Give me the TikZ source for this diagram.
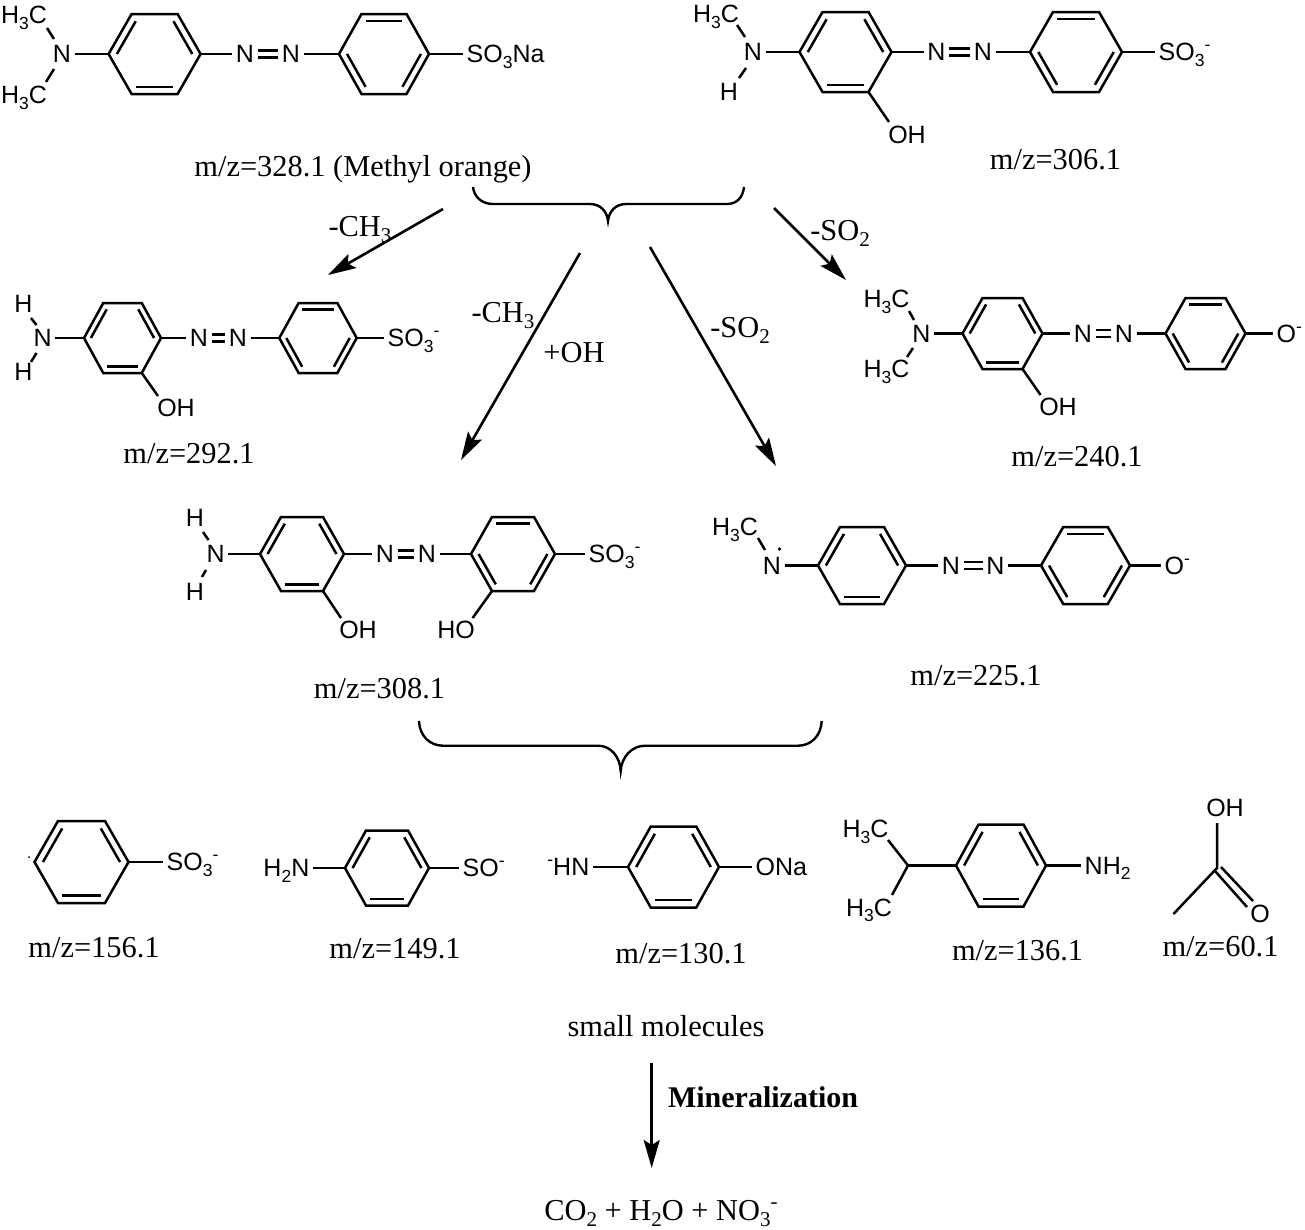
\documentclass[tikz,border=0pt]{standalone}
\usepackage{fontspec}
\setmainfont{Liberation Serif}
\newfontfamily\arialf{Liberation Sans}
\usetikzlibrary{arrows.meta,calc}
\newcommand\asb[1]{\raisebox{-5.5pt}{\fontsize{17.5}{17.5}\selectfont #1}}
\newcommand\asp[1]{\raisebox{10pt}{\fontsize{17.5}{17.5}\selectfont #1}}
\newcommand\tsb[1]{\raisebox{-6.5pt}{\fontsize{21}{21}\selectfont #1}}
\newcommand\tsp[1]{\raisebox{12pt}{\fontsize{21}{21}\selectfont #1}}
\tikzset{
  bond/.style={line width=2.5pt,line cap=butt,black},
  atom/.style={font=\arialf\fontsize{25}{25}\selectfont,inner xsep=3.5pt,inner ysep=0pt,text height=17.5pt,text depth=0pt},
  lab/.style={font=\fontsize{30.4}{30.4}\selectfont,inner sep=0pt,text height=20pt,text depth=0pt},
  boldlab/.style={lab,font=\bfseries\fontsize{30}{30}\selectfont},
  rxn/.style={line width=2.6pt,black,-{Stealth[length=28pt,width=16pt,inset=5pt]}},
  bracep/.style={line width=2.4pt,black}
}
\newcommand{\benzbase}[5]{%
  \coordinate (#1C) at (#2,#3);
  \coordinate (#1L) at ({#2-#4},#3);
  \coordinate (#1TL) at ({#2-#4/2},{#3-#5});
  \coordinate (#1TR) at ({#2+#4/2},{#3-#5});
  \coordinate (#1R) at ({#2+#4},#3);
  \coordinate (#1BR) at ({#2+#4/2},{#3+#5});
  \coordinate (#1BL) at ({#2-#4/2},{#3+#5});
  \draw[bond,line join=miter] (#1L) -- (#1TL) -- (#1TR) -- (#1R) -- (#1BR) -- (#1BL) -- cycle;}
\newcommand{\inn}[3]{\draw[bond] ($(#1#2)!.18!(#1C)$) -- ($(#1#3)!.18!(#1C)$);}
\newcommand{\benzA}[5]{\benzbase{#1}{#2}{#3}{#4}{#5}\inn{#1}{L}{TL}\inn{#1}{TR}{R}\inn{#1}{BR}{BL}}
\newcommand{\benzB}[5]{\benzbase{#1}{#2}{#3}{#4}{#5}\inn{#1}{TL}{TR}\inn{#1}{R}{BR}\inn{#1}{BL}{L}}
\newcommand{\azo}[2]{\draw[bond] ([yshift=3.7pt]#1.east) -- ([yshift=3.7pt]#2.west);\draw[bond] ([yshift=-3.7pt]#1.east) -- ([yshift=-3.7pt]#2.west);}
\newcommand{\lnk}[3]{\coordinate (#1s) at (#2);\coordinate (#1e) at (#3);\draw[bond] (#1s) -- (#1e);}
\begin{document}
\begin{tikzpicture}[x=1pt,y=-1pt]
\useasboundingbox (0,0) rectangle (1305,1229);
\fill[white] (0,0) rectangle (1305,1229);

% Methyl orange
\benzA{ma}{154.6}{54}{46}{40}
\benzB{mb}{384}{54}{45}{40}
\node[atom] (mah1) at (24,15) {H\asb{3}C};
\node[atom] (mah2) at (24,95) {H\asb{3}C};
\node[atom] (man) at (62,54) {N};
\node[atom] (manl) at (245,54) {N};
\node[atom] (manr) at (291,54) {N};
\node[atom,anchor=west] (mas) at (463,54) {SO\asb{3}Na};
\lnk{mab1}{47,28}{54,39}
\lnk{mab2}{54,69}{46,82}
\draw[bond] (man) -- (maL);
\draw[bond] (maR) -- (manl);
\azo{manl}{manr}
\draw[bond] (manr) -- (mbL);
\draw[bond] (mbR) -- (mas.west);
\node[lab] (mal) at (363,166) {m/z=328.1 (Methyl orange)};

% m/z 306.1
\benzA{na}{845.5}{52}{46}{40}
\benzB{nb}{1076}{52}{46}{40}
\node[atom] (nah) at (716,14) {H\asb{3}C};
\node[atom] (nn) at (753,52) {N};
\node[atom] (nh) at (729,92) {H};
\node[atom] (nnl) at (936.5,52) {N};
\node[atom] (nnr) at (983,52) {N};
\node[atom,anchor=west] (ns) at (1155,52) {SO\asb{3}\asp{-}};
\node[atom] (noh) at (907,135) {OH};
\lnk{nab1}{737,25}{745,37}
\lnk{nab2}{746,68}{739,78}
\draw[bond] (nn) -- (naL);
\draw[bond] (naR) -- (nnl);
\azo{nnl}{nnr}
\draw[bond] (nnr) -- (nbL);
\draw[bond] (nbR) -- (ns.west);
\coordinate (nohb) at (889,122);
\draw[bond] (naBR) -- (nohb);
\node[lab] (nal) at (1055.5,159) {m/z=306.1};

% m/z 292.1
\benzA{pa}{122.5}{338}{38.5}{35}
\benzB{pb}{318}{338}{38.7}{35}
\node[atom] (ph1) at (23.5,304) {H};
\node[atom] (ph2) at (23.5,372) {H};
\node[atom] (pn) at (42.7,338) {N};
\node[atom] (pnl) at (199,338) {N};
\node[atom] (pnr) at (238,338) {N};
\node[atom,anchor=west] (ps) at (384,338) {SO\asb{3}\asp{-}};
\node[atom] (poh) at (176,408) {OH};
\lnk{pab1}{31,318}{36.5,325}
\lnk{pab2}{36.5,353}{31,362}
\draw[bond] (pn) -- (paL);
\draw[bond] (paR) -- (pnl);
\azo{pnl}{pnr}
\draw[bond] (pnr) -- (pbL);
\draw[bond] (pbR) -- (ps.west);
\coordinate (pohb) at (158,396);
\draw[bond] (paBR) -- (pohb);
\node[lab] (pal) at (189,453) {m/z=292.1};

% m/z 308.1
\benzA{qa}{302}{554}{42}{37}
\benzB{qb}{513}{554}{42}{37}
\node[atom] (qh1) at (195,518) {H};
\node[atom] (qh2) at (195,592) {H};
\node[atom] (qn) at (215.6,554) {N};
\node[atom] (qnl) at (385,554) {N};
\node[atom] (qnr) at (427,554) {N};
\node[atom,anchor=west] (qs) at (585,554) {SO\asb{3}\asp{-}};
\node[atom] (qoh) at (358,630) {OH};
\node[atom] (qho) at (456,630) {HO};
\lnk{qab1}{203,532}{208.5,540}
\lnk{qab2}{206,570}{202,577}
\draw[bond] (qn) -- (qaL);
\draw[bond] (qaR) -- (qnl);
\azo{qnl}{qnr}
\draw[bond] (qnr) -- (qbL);
\draw[bond] (qbR) -- (qs.west);
\coordinate (qohb) at (341,618);
\coordinate (qhob) at (472.6,618);
\draw[bond] (qaBR) -- (qohb);
\draw[bond] (qbBL) -- (qhob);
\node[lab] (qal) at (379.5,688) {m/z=308.1};

% m/z 240.1
\benzA{ra}{1002.5}{333.5}{40}{35.5}
\benzB{rb}{1205.5}{333.5}{40}{35.5}
\node[atom] (rh1) at (886.5,299) {H\asb{3}C};
\node[atom] (rh2) at (886.5,369) {H\asb{3}C};
\node[atom] (rn) at (921.5,333.5) {N};
\node[atom] (rnl) at (1083,333.5) {N};
\node[atom] (rnr) at (1124,333.5) {N};
\node[atom,anchor=west] (ro) at (1273,333.5) {O\asp{-}};
\node[atom] (roh) at (1058,407) {OH};
\lnk{rab1}{909,311}{914,320}
\lnk{rab2}{913,348}{907,357}
\draw[bond] (rn) -- (raL);
\draw[bond] (raR) -- (rnl);
\azo{rnl}{rnr}
\draw[bond] (rnr) -- (rbL);
\draw[bond] (rbR) -- (ro.west);
\coordinate (rohb) at (1040.6,395);
\draw[bond] (raBR) -- (rohb);
\node[lab] (ral) at (1077,456) {m/z=240.1};

% m/z 225.1
\benzA{sa}{862}{565.5}{44}{38.5}
\benzB{sb}{1085.5}{565.5}{44.5}{38.5}
\node[atom] (sh) at (735,527) {H\asb{3}C};
\node[atom] (sn) at (772,565.5) {N};
\node[atom] (snl) at (951,565.5) {N};
\node[atom] (snr) at (995.5,565.5) {N};
\node[atom,anchor=west] (so) at (1161,565.5) {O\asp{-}};
\lnk{sab1}{758,538}{765,550}
\fill (779.5,549) circle (1.8);
\draw[bond] (sn) -- (saL);
\draw[bond] (saR) -- (snl);
\azo{snl}{snr}
\draw[bond] (snr) -- (sbL);
\draw[bond] (sbR) -- (so.west);
\node[lab] (sal) at (976,675) {m/z=225.1};

% m/z 156.1
\benzA{ta}{81.5}{862}{47}{41}
\fill (29,857) circle (1);
\node[atom,anchor=west] (ts) at (163,862) {SO\asb{3}\asp{-}};
\draw[bond] (taR) -- (ts.west);
\node[lab] (tal) at (94,947) {m/z=156.1};

% m/z 149.1
\benzA{ua}{387}{868}{42}{37.5}
\node[atom,anchor=east] (un) at (313,868) {H\asb{2}N};
\node[atom,anchor=west] (us) at (459,868) {SO\asp{-}};
\draw[bond] (un.east) -- (uaL);
\draw[bond] (uaR) -- (us.west);
\node[lab] (ual) at (395,948) {m/z=149.1};

% m/z 130.1
\benzA{va}{673.5}{867}{45.5}{40.5}
\node[atom,anchor=east] (vn) at (593,867) {\asp{-}HN};
\node[atom,anchor=west] (vo) at (752,867) {ONa};
\draw[bond] (vn.east) -- (vaL);
\draw[bond] (vaR) -- (vo.west);
\node[lab] (val) at (681,953) {m/z=130.1};

% m/z 136.1
\benzA{wa}{1001}{865.5}{45}{41}
\node[atom] (wh1) at (865.5,829) {H\asb{3}C};
\node[atom] (wh2) at (869,907.7) {H\asb{3}C};
\coordinate (wc) at (908,865.5);
\coordinate (wb1) at (888,840);
\coordinate (wb2) at (892,895);
\draw[bond,line join=miter] (wb1) -- (wc) -- (wb2);
\draw[bond] (wc) -- (waL);
\node[atom,anchor=west] (wn) at (1081,865.5) {NH\asb{2}};
\draw[bond] (waR) -- (wn.west);
\node[lab] (wal) at (1017.6,950) {m/z=136.1};

% m/z 60.1
\node[atom] (xoh) at (1225,808) {OH};
\node[atom] (xo) at (1260,914) {O};
\coordinate (xc) at (1217,868);
\coordinate (xt) at (1217,823);
\coordinate (xm) at (1173.4,914);
\coordinate (xd1a) at (1215,871);
\coordinate (xd1b) at (1247,907);
\coordinate (xd2a) at (1221,867);
\coordinate (xd2b) at (1253,901);
\draw[bond,line join=miter] (xt) -- (xc) -- (xm);
\draw[bond] (xd1a) -- (xd1b);
\draw[bond] (xd2a) -- (xd2b);
\node[lab] (xal) at (1220.5,946) {m/z=60.1};

% braces
\draw[bracep] (473,187) .. controls (474,197) and (482,204) .. (493,204) -- (590,204) .. controls (600,204) and (607,211) .. (608,221) .. controls (609,211) and (616,204) .. (626,204) -- (727,204) .. controls (737,204) and (743,197) .. (744,187);
\draw[bracep] (419,721) .. controls (419.5,736) and (430,745.7) .. (443,745.7) -- (598,745.7) .. controls (611,745.7) and (620,757) .. (620.7,771) .. controls (621.4,757) and (632,745.7) .. (645,745.7) -- (798,745.7) .. controls (811,745.7) and (821,736) .. (821.7,721);

% reaction arrows
\coordinate (a1s) at (443,209);
\coordinate (a1e) at (328,275);
\coordinate (a2s) at (580,253);
\coordinate (a2e) at (461,460);
\coordinate (a3s) at (650,247);
\coordinate (a3e) at (776,466);
\coordinate (a4s) at (774,208);
\coordinate (a4e) at (846,280);
\coordinate (a5s) at (651.7,1063);
\coordinate (a5e) at (651.7,1168);
\draw[rxn] (a1s) -- (a1e);
\draw[rxn] (a2s) -- (a2e);
\draw[rxn] (a3s) -- (a3e);
\draw[rxn] (a4s) -- (a4e);
\draw[rxn] (a5s) -- (a5e);

\node[lab] (l1) at (360,226) {-CH\tsb{3}};
\node[lab] (l2) at (840,230) {-SO\tsb{2}};
\node[lab] (l3) at (503,312) {-CH\tsb{3}};
\node[lab] (l4) at (574,352) {+OH};
\node[lab] (l5) at (740,327) {-SO\tsb{2}};
\node[lab] (l6) at (666,1026) {small molecules};
\node[boldlab] (l7) at (763,1097) {Mineralization};
\node[lab] (l8) at (661,1210) {CO\tsb{2} + H\tsb{2}O + NO\tsb{3}\tsp{-}};
\end{tikzpicture}
\end{document}
